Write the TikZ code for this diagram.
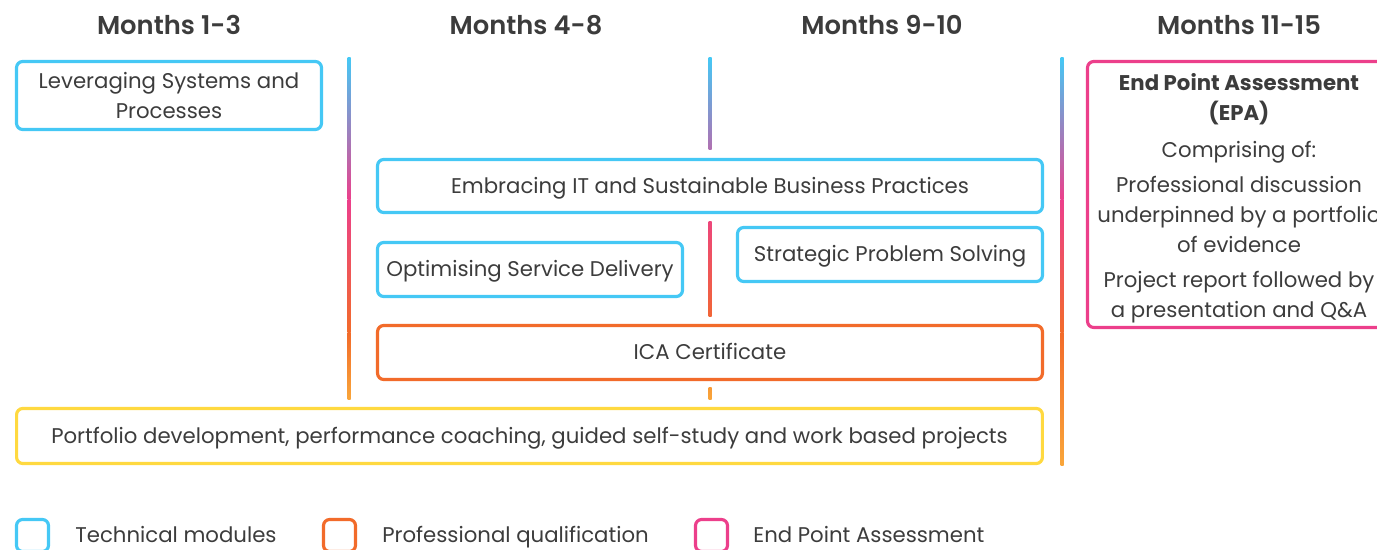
\documentclass[tikz,border=0pt]{standalone}
\usepackage{fontspec}
\setmainfont{Poppins}
\IfFontExistsTF{Poppins SemiBold}
  {\newfontfamily\headfont{Poppins SemiBold}}
  {\newcommand\headfont{\bfseries}}
\usetikzlibrary{positioning}
\definecolor{techblue}{HTML}{45C8F5}
\definecolor{qualorange}{HTML}{F26B2A}
\definecolor{epapink}{HTML}{EC3F8B}
\definecolor{portyellow}{HTML}{FFD940}
\definecolor{lineamber}{HTML}{F9A63A}
\definecolor{txtgray}{HTML}{3C3C3C}
\def\gradseg#1#2#3#4#5{\shade[top color=#4, bottom color=#5] ({#1-1.5},#2) rectangle ({#1+1.5},#3);}
\tikzset{
  every node/.style={text=txtgray, font=\fontsize{12.1}{17}\selectfont},
  modbox/.style={draw, line width=1.8pt, rounded corners=3.5pt, align=center, inner sep=0pt},
  oneline/.style={text height=1.1em, text depth=0.25em},
  techbox/.style={modbox, draw=techblue},
  qualbox/.style={modbox, draw=qualorange},
  epabox/.style={modbox, draw=epapink},
  portbox/.style={modbox, draw=portyellow},
  keybox/.style={draw, line width=1.8pt, rounded corners=3.5pt, minimum width=0.64cm, minimum height=0.64cm},
  keytext/.style={anchor=base west, inner sep=0pt},
  monthhead/.style={anchor=base, font=\fontsize{14.7}{17}\selectfont\headfont},
}
\begin{document}
\begin{tikzpicture}[x=0.02cm, y=-0.02cm]
		%%%%% START %%%%%
		\useasboundingbox (0,0) rectangle (1377,550);
		
		\node[monthhead] (m1) at (169, 35) {Months 1-3};
		\node[monthhead] (m2) at (526, 35) {Months 4-8};
		\node[monthhead] (m3) at (882, 35) {Months 9-10};
		\node[monthhead] (m4) at (1239, 35) {Months 11-15};
		
		% column rules
		\gradseg{349}{58}{200}{techblue}{epapink}
		\gradseg{349}{200}{333}{epapink}{qualorange}
		\gradseg{349}{333}{400}{qualorange}{lineamber}
		
		\gradseg{710}{58}{150}{techblue}{epapink!65!techblue}
		\gradseg{710}{222}{317}{qualorange!17!epapink}{qualorange!88!epapink}
		\gradseg{710}{388}{400}{lineamber!82!qualorange}{lineamber}
		
		\gradseg{1062}{58}{200}{techblue}{epapink}
		\gradseg{1062}{200}{333}{epapink}{qualorange}
		\gradseg{1062}{333}{466}{qualorange}{lineamber}
		
		% modules
		\node[techbox, minimum width=6.1cm, minimum height=1.36cm] (lev) at (169, 95.5) {Leveraging Systems and\\Processes};
		\node[techbox, oneline, minimum width=13.3cm, minimum height=1.06cm] (emb) at (710, 186) {Embracing IT and Sustainable Business Practices};
		\node[techbox, oneline, minimum width=6.1cm, minimum height=1.08cm] (opt) at (530, 269.5) {Optimising Service Delivery};
		\node[techbox, oneline, minimum width=6.1cm, minimum height=1.08cm] (strat) at (890, 254.5) {Strategic Problem Solving};
		\node[qualbox, oneline, minimum width=13.3cm, minimum height=1.08cm] (ica) at (710, 352.5) {ICA Certificate};
		\node[portbox, oneline, minimum width=20.52cm, minimum height=1.1cm] (port) at (529.5, 436) {Portfolio development, performance coaching, guided self-study and work based projects};
		
		% end point assessment
		\node[epabox, minimum width=6.06cm, minimum height=5.32cm] (epa) at (1239, 194.5) {};
		\node[align=center] (epatext) at (1239, 198.5) {\textbf{End Point Assessment}\\\textbf{(EPA)}\\[4pt]Comprising of:\\[3pt]Professional discussion\\underpinned by a portfolio\\of evidence\\[3pt]Project report followed by\\a presentation and Q\&A};
		
		% key
		\node[keybox, draw=techblue] (ktech) at (32.5, 535.5) {};
		\node[keytext] (ltech) at (75, 543) {Technical modules};
		\node[keybox, draw=qualorange] (kqual) at (339.5, 535.5) {};
		\node[keytext] (lqual) at (382, 543) {Professional qualification};
		\node[keybox, draw=epapink] (kepa) at (711.5, 535.5) {};
		\node[keytext] (lepa) at (753, 543) {End Point Assessment};
		%%%%% END %%%%%
\end{tikzpicture}
\end{document}
